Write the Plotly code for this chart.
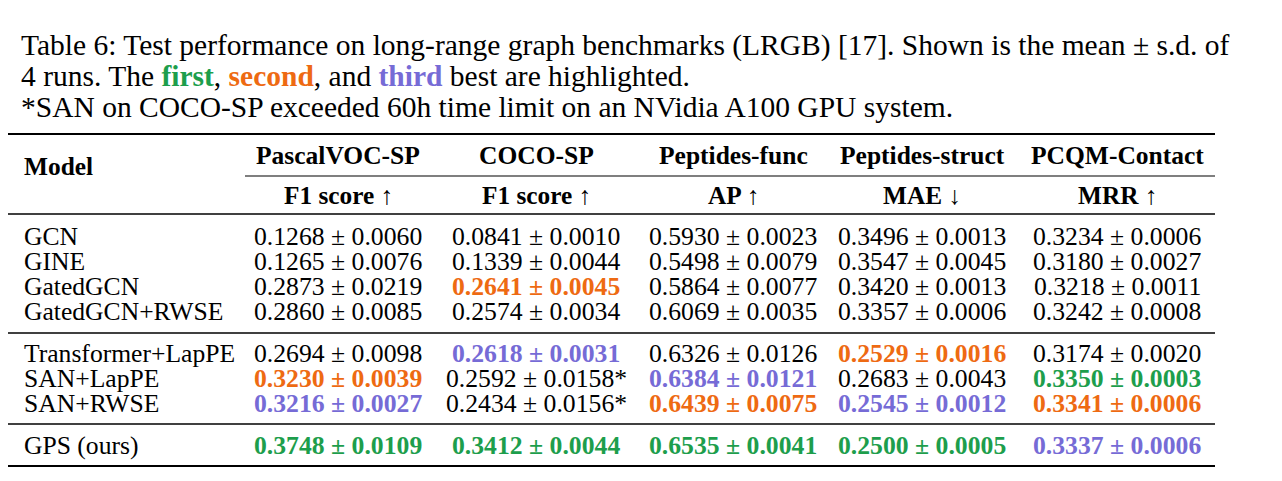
import plotly.graph_objects as go

# table contents
caption_lines = [
    "Table 6: Test performance on long-range graph benchmarks (LRGB) [17]. Shown is the mean ± s.d. of",
    "4 runs. The <b><span style='color:#1d9e4c'>first</span></b>, "
    "<b><span style='color:#ee6a12'>second</span></b>, and "
    "<b><span style='color:#766bd6'>third</span></b> best are highlighted.",
    "*SAN on COCO-SP exceeded 60h time limit on an NVidia A100 GPU system.",
]
datasets = ["PascalVOC-SP", "COCO-SP", "Peptides-func", "Peptides-struct", "PCQM-Contact"]
metrics = ["F1 score ↑", "F1 score ↑", "AP ↑", "MAE ↓", "MRR ↑"]

models = ["GCN", "GINE", "GatedGCN", "GatedGCN+RWSE",
          "Transformer+LapPE", "SAN+LapPE", "SAN+RWSE",
          "GPS (ours)"]
groups = [0, 0, 0, 0, 1, 1, 1, 2]

pascal = ["0.1268 ± 0.0060", "0.1265 ± 0.0076", "0.2873 ± 0.0219", "0.2860 ± 0.0085",
          "0.2694 ± 0.0098", "0.3230 ± 0.0039", "0.3216 ± 0.0027", "0.3748 ± 0.0109"]
coco = ["0.0841 ± 0.0010", "0.1339 ± 0.0044", "0.2641 ± 0.0045", "0.2574 ± 0.0034",
        "0.2618 ± 0.0031", "0.2592 ± 0.0158*", "0.2434 ± 0.0156*", "0.3412 ± 0.0044"]
pep_func = ["0.5930 ± 0.0023", "0.5498 ± 0.0079", "0.5864 ± 0.0077", "0.6069 ± 0.0035",
            "0.6326 ± 0.0126", "0.6384 ± 0.0121", "0.6439 ± 0.0075", "0.6535 ± 0.0041"]
pep_struct = ["0.3496 ± 0.0013", "0.3547 ± 0.0045", "0.3420 ± 0.0013", "0.3357 ± 0.0006",
              "0.2529 ± 0.0016", "0.2683 ± 0.0043", "0.2545 ± 0.0012", "0.2500 ± 0.0005"]
pcqm = ["0.3234 ± 0.0006", "0.3180 ± 0.0027", "0.3218 ± 0.0011", "0.3242 ± 0.0008",
        "0.3174 ± 0.0020", "0.3350 ± 0.0003", "0.3341 ± 0.0006", "0.3337 ± 0.0006"]

# 1 = first, 2 = second, 3 = third, 0 = not highlighted
rank_pascal = [0, 0, 0, 0, 0, 2, 3, 1]
rank_coco = [0, 0, 2, 0, 3, 0, 0, 1]
rank_pep_func = [0, 0, 0, 0, 0, 3, 2, 1]
rank_pep_struct = [0, 0, 0, 0, 2, 0, 3, 1]
rank_pcqm = [0, 0, 0, 0, 0, 1, 2, 3]

columns = [pascal, coco, pep_func, pep_struct, pcqm]
ranks = [rank_pascal, rank_coco, rank_pep_func, rank_pep_struct, rank_pcqm]
rank_colors = {1: "#1d9e4c", 2: "#ee6a12", 3: "#766bd6"}

FONT = "Liberation Serif, Times New Roman, serif"
W, H = 1282, 481
OFF = 8  # page body margin
col_x = [338, 536, 733, 922, 1117]
left, right = 8, 1215
row_step = 25
group_top = [236, 353, 445]

fig = go.Figure()
ann = []
shapes = []

for i, line in enumerate(caption_lines):
    ann.append(dict(x=19, y=45 + i * 31, text=line, xanchor="left", yanchor="middle",
                    font=dict(size=29.5, color="black", family=FONT), showarrow=False))

ann.append(dict(x=22, y=166, text="<b>Model</b>", xanchor="left", yanchor="middle",
                font=dict(size=25.4, color="black", family=FONT), showarrow=False))
for x, d, m in zip(col_x, datasets, metrics):
    ann.append(dict(x=x, y=155, text=f"<b>{d}</b>", xanchor="center", yanchor="middle",
                    font=dict(size=25.5, color="black", family=FONT), showarrow=False))
    ann.append(dict(x=x, y=195, text=f"<b>{m}</b>", xanchor="center", yanchor="middle",
                    font=dict(size=25.3, color="black", family=FONT), showarrow=False))

row_y = []
for r, g in enumerate(groups):
    first = groups.index(g)
    row_y.append(group_top[g] + (r - first) * row_step)

for r, name in enumerate(models):
    ann.append(dict(x=22, y=row_y[r], text=name, xanchor="left", yanchor="middle",
                    font=dict(size=25.6, color="black", family=FONT), showarrow=False))
    for c, x in enumerate(col_x):
        val = columns[c][r]
        rk = ranks[c][r]
        if rk:
            txt = f"<b>{val}</b>"
            color = rank_colors[rk]
        else:
            txt = val
            color = "black"
        ann.append(dict(x=x, y=row_y[r], text=txt, xanchor="center", yanchor="middle",
                        font=dict(size=25.7, color=color, family=FONT), showarrow=False))

# booktabs-style rules
rules = [(134, 2.2), (214, 1.3), (333, 1.3), (424, 1.3), (466, 2.2)]
for y, w in rules:
    shapes.append(dict(type="line", x0=left, x1=right, y0=y, y1=y, xref="x", yref="y",
                       line=dict(color="black", width=w)))
shapes.append(dict(type="line", x0=245, x1=right, y0=176, y1=176, xref="x", yref="y",
                   line=dict(color="black", width=1.1)))

fig.update_layout(
    width=W - 2 * OFF, height=H - 2 * OFF,
    margin=dict(l=0, r=0, t=0, b=0),
    paper_bgcolor="white", plot_bgcolor="white",
    xaxis=dict(range=[OFF, W - OFF], visible=False, fixedrange=True),
    yaxis=dict(range=[H - OFF, OFF], visible=False, fixedrange=True),
    annotations=ann, shapes=shapes, showlegend=False,
)

fig.write_html("out.html")
